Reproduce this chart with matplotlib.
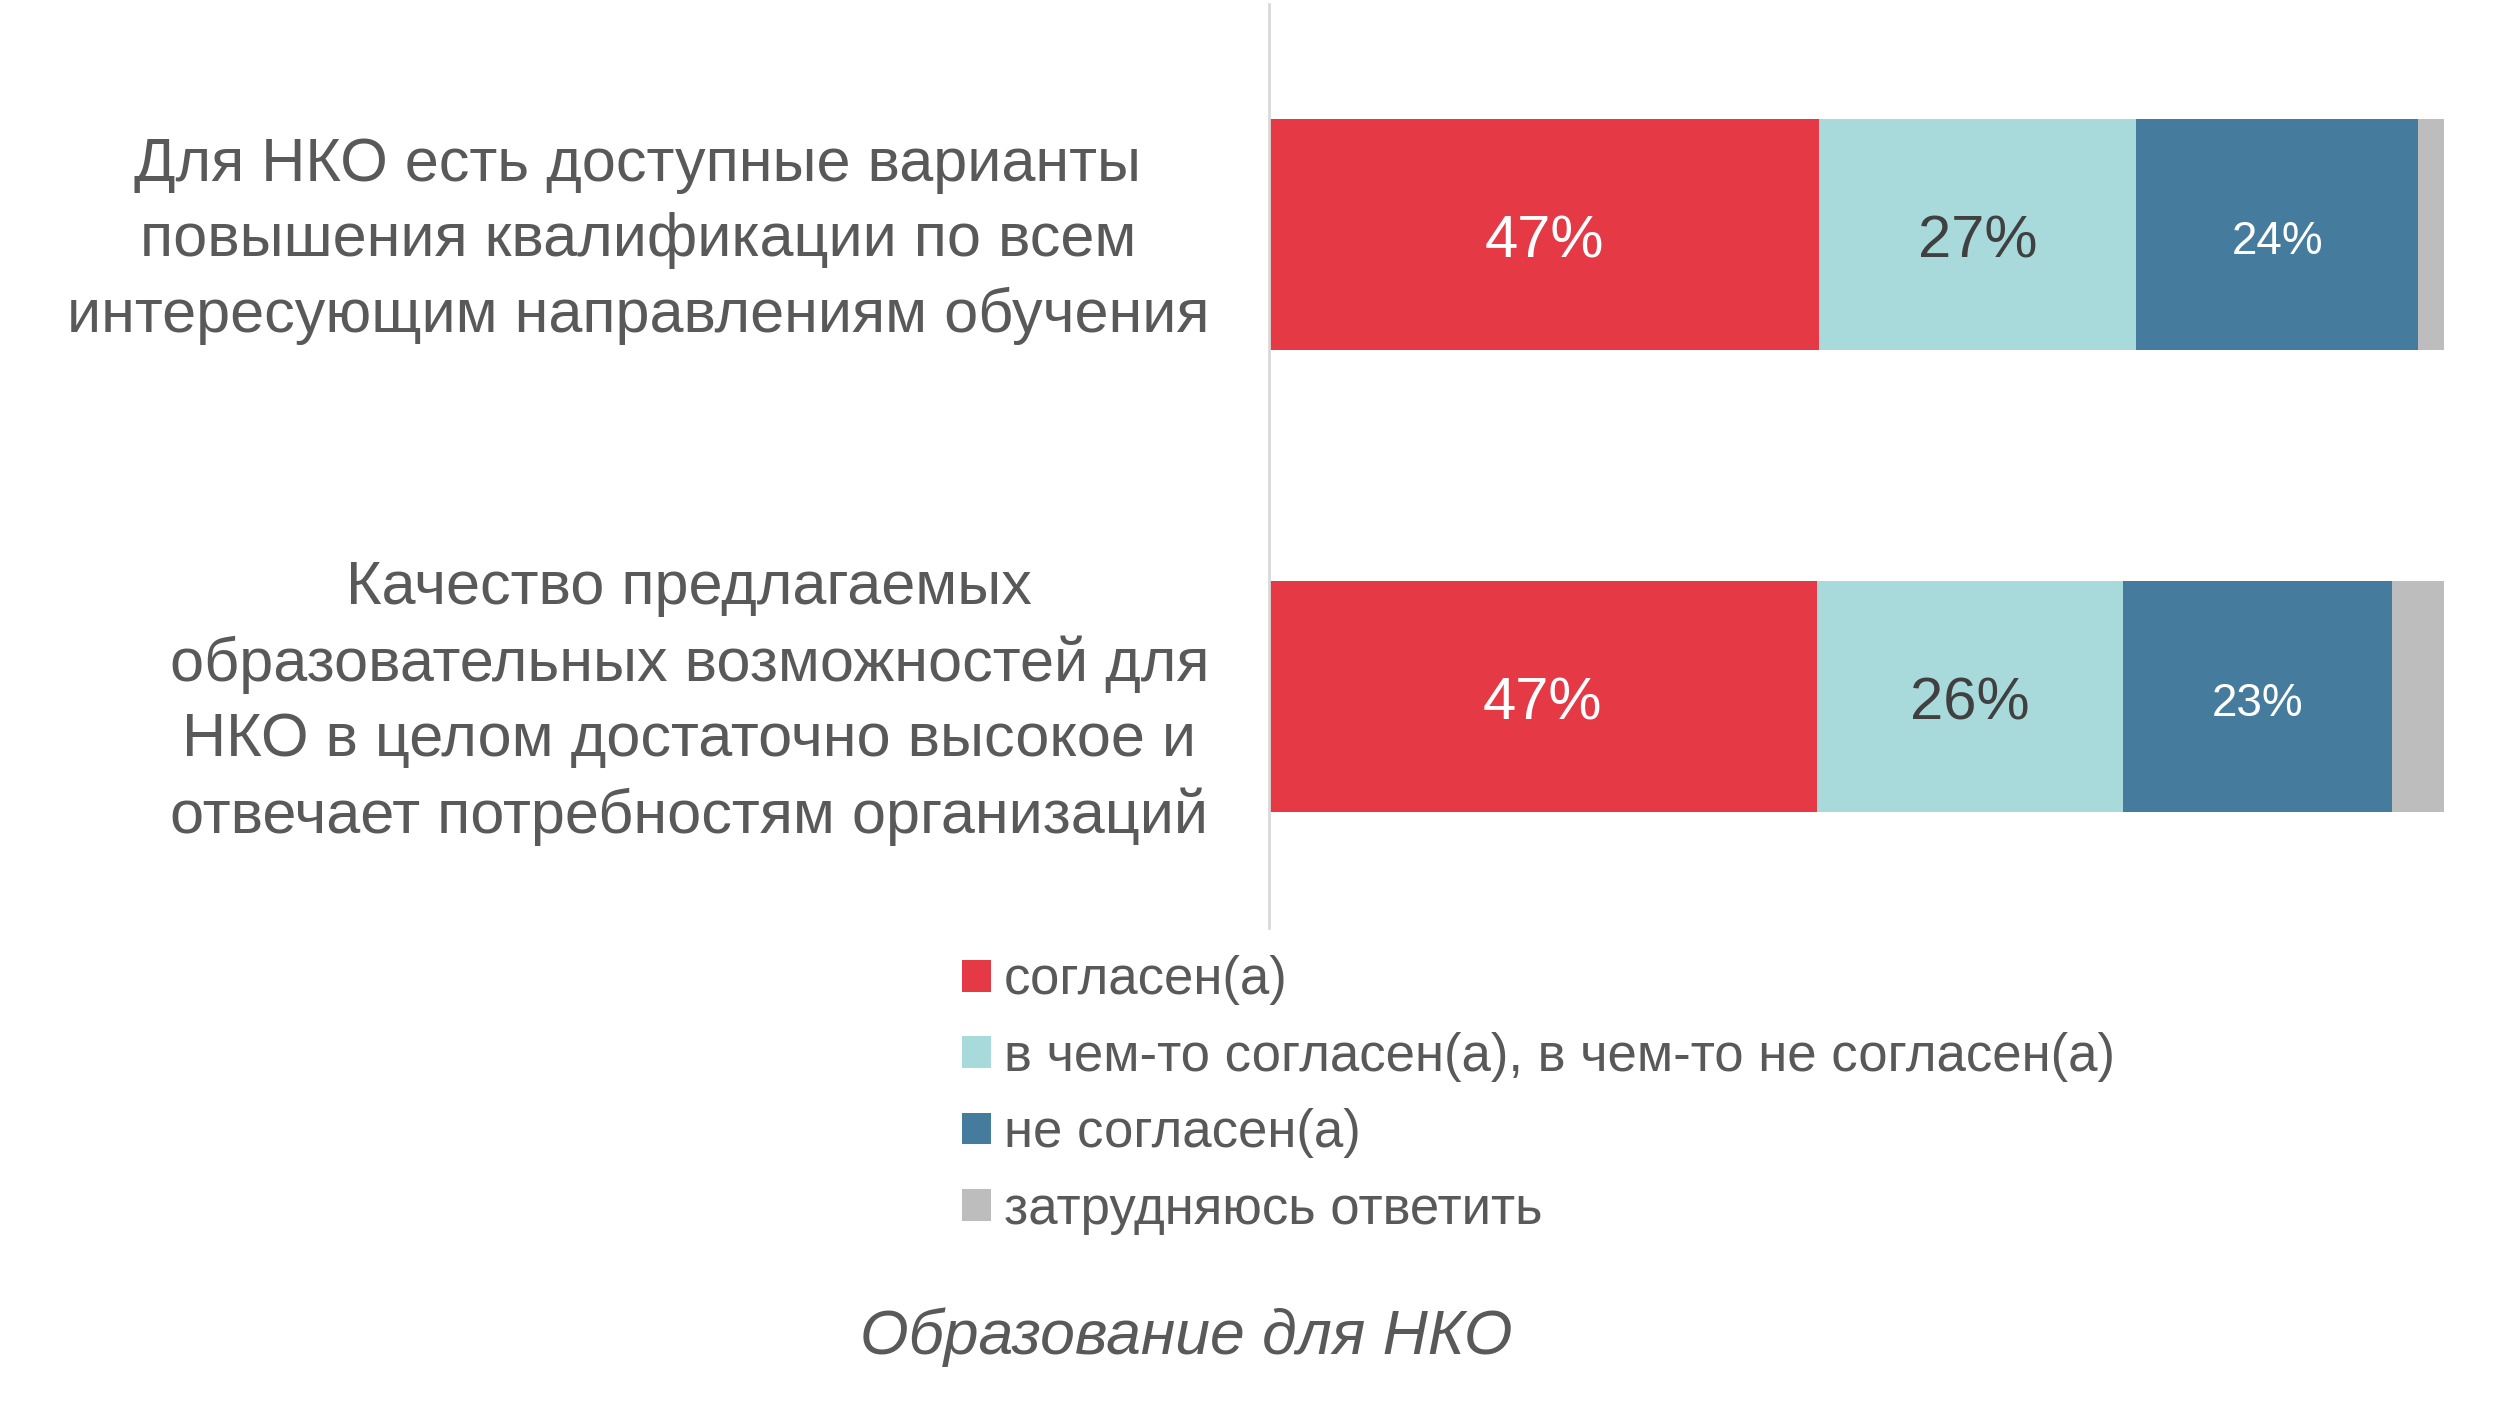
import matplotlib
import numpy as np

matplotlib.use("Agg")
import matplotlib.pyplot as plt

FONT = ["Liberation Sans Narrow", "Liberation Sans", "DejaVu Sans"]
TEXT_COLOR = "#595959"

categories = [
    "Для НКО есть доступные варианты\nповышения квалификации по всем\nинтересующим направлениям обучения",
    "Качество предлагаемых\nобразовательных возможностей для\nНКО в целом достаточно высокое и\nотвечает потребностям организаций",
]
series_names = [
    "согласен(а)",
    "в чем-то согласен(а), в чем-то не согласен(а)",
    "не согласен(а)",
    "затрудняюсь ответить",
]
agree = [46.8, 46.6]
partly = [27.0, 26.1]
disagree = [24.0, 22.9]
no_answer = [2.2, 4.4]
agree_labels = ["47%", "47%"]
partly_labels = ["27%", "26%"]
disagree_labels = ["24%", "23%"]

colors = ["#E63946", "#A8DADC", "#457B9D", "#BDBDBD"]
label_colors = ["white", "#404040", "white", None]
label_sizes = [43, 43, 33, None]

fig = plt.figure(figsize=(25.08, 14.22), dpi=100)
ax = fig.add_axes([0.506, 0.3474, 0.4685, 0.6498])

y = np.arange(len(categories))
values = [agree, partly, disagree, no_answer]
labels = [agree_labels, partly_labels, disagree_labels, None]
left = np.zeros(len(categories))
for vals, name, col, labs, lc, ls in zip(values, series_names, colors, labels, label_colors, label_sizes):
    vals = np.array(vals)
    bars = ax.barh(y, vals, left=left, height=0.5, color=col, label=name)
    if labs is not None:
        txts = ax.bar_label(bars, labels=labs, label_type="center", color=lc,
                            fontsize=ls, family=FONT)
        for t in txts:
            t.set_y(-5)
    left += vals

ax.set_xlim(0, 100)
ax.set_ylim(1.5, -0.5)
ax.set_xticks([])
ax.set_yticks([])
for s in ["top", "right", "bottom"]:
    ax.spines[s].set_visible(False)
ax.spines["left"].set_color("#D9D9D9")
ax.spines["left"].set_linewidth(2)

for yi, cat in zip(y, categories):
    ax.annotate(cat, xy=(0, yi), xycoords=("axes fraction", "data"),
                xytext=(-60, -6), textcoords="offset pixels",
                ha="right", va="center", multialignment="center",
                fontsize=44, color=TEXT_COLOR, family=FONT, linespacing=1.41)

handles, hl = ax.get_legend_handles_labels()
fig.legend(handles, hl, loc="upper left", bbox_to_anchor=(0.3645, 0.3615),
           frameon=False, handlelength=0.55, handleheight=0.55,
           handletextpad=0.25, labelspacing=0.5, prop={"family": FONT, "size": 38},
           labelcolor=TEXT_COLOR)

fig.text(0.473, 0.06, "Образование для НКО", ha="center", va="center",
         fontsize=45, style="italic", color=TEXT_COLOR, family=FONT)

fig.savefig("out.png", dpi=100)
